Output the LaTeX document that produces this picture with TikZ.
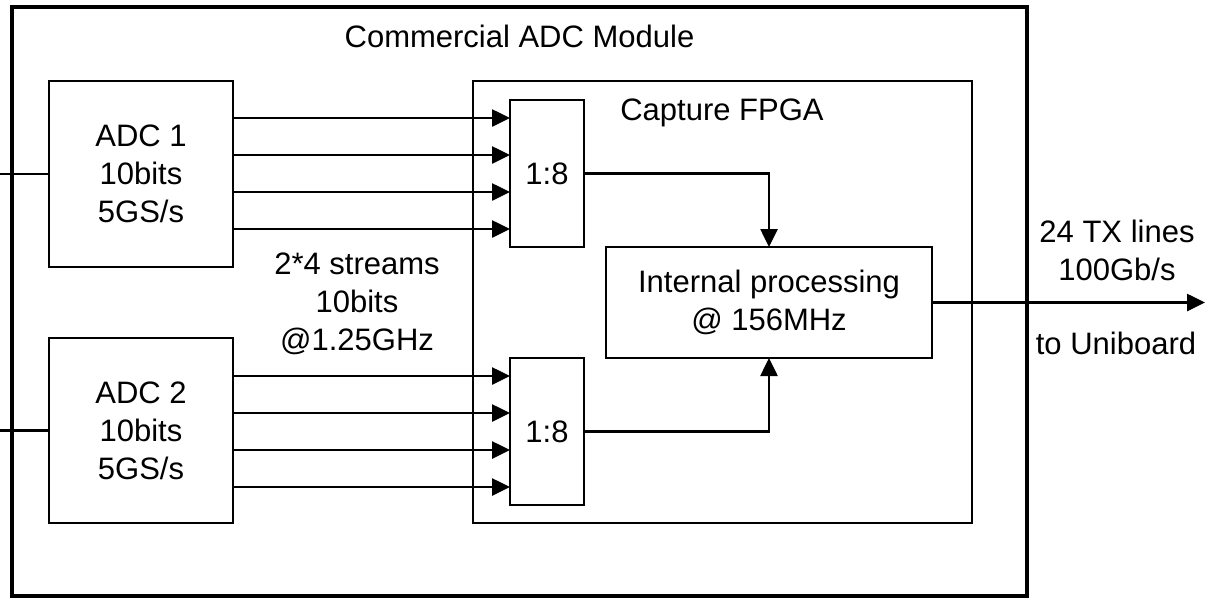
\documentclass[tikz,border=0pt]{standalone}
\usepackage{fontspec}
\setmainfont{Liberation Sans}
\usepackage{tikz}
\usetikzlibrary{arrows.meta}

\begin{document}
\begin{tikzpicture}[x=1pt, y=-1pt, font=\fontsize{31}{38}\selectfont,
  box/.style={draw, line width=1.8pt, inner sep=0pt, outer sep=0pt, align=center},
  wire/.style={line width=2.6pt},
  stream/.style={line width=2.6pt, -{Triangle[length=18pt,width=17pt]}}]
  \useasboundingbox (0,0) rectangle (1205,598);
  \node[box, line width=3.2pt, minimum width=1015pt, minimum height=589pt] (module) at (519.5,301.5) {};
  \node[anchor=base] (title) at (519.5,47) {Commercial ADC Module};
  \node[box, minimum width=499pt, minimum height=442pt] (fpga) at (722.5,302) {};
  \node[anchor=base] (fpgatitle) at (722,120) {Capture FPGA};
  \node[box, minimum width=184pt, minimum height=186pt] (adc1) at (141,174) {ADC 1\\10bits\\5GS/s};
  \node[box, minimum width=184pt, minimum height=185pt] (adc2) at (141,430.5) {ADC 2\\10bits\\5GS/s};
  \node[box, minimum width=74pt, minimum height=147pt] (mux1) at (547,173.5) {1:8};
  \node[box, minimum width=74pt, minimum height=147pt] (mux2) at (547,431.5) {1:8};
  \node[box, minimum width=326pt, minimum height=111pt] (proc) at (769,302.5) {Internal processing\\@ 156MHz};
  \node[align=center] (streams) at (357,304) {2*4 streams\\10bits\\@1.25GHz};
  \node[align=center] (txlines) at (1117,250) {24 TX lines\\100Gb/s};
  \node[anchor=base] (dest) at (1116,354) {to Uniboard};
  % analog inputs
  \draw[wire] (adc1.west -| 0,0) -- (adc1.west);
  \draw[wire] (adc2.west -| 0,0) -- (adc2.west);
  % sample streams
  \foreach \dy in {-55.5,-18.5,18.5,55.5} {
    \path ([yshift=\dy pt]mux1.west) coordinate (t1) ([yshift=\dy pt]mux2.west) coordinate (t2);
    \draw[stream] (adc1.east |- t1) -- (t1);
    \draw[stream] (adc2.east |- t2) -- (t2);
  }
  \draw[stream] (mux1) -| (proc);
  \draw[stream] (mux2) -| (proc);
  \draw[stream] (proc.east) -- (proc.east -| 1205,0);
\end{tikzpicture}
\end{document}
